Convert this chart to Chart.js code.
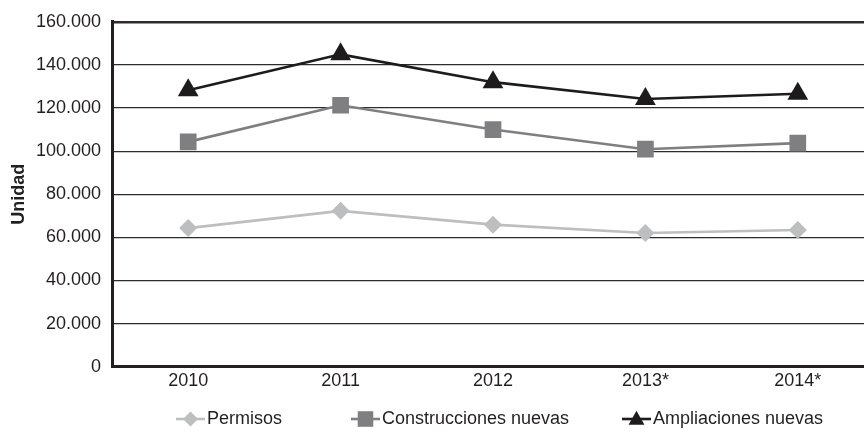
<!DOCTYPE html>
<html lang="es">
<head>
<meta charset="utf-8">
<title>Permisos y construcciones 2010-2014</title>
<script src="https://cdn.jsdelivr.net/npm/chart.js@4/dist/chart.umd.min.js"></script>
<style>
  html, body { margin: 0; padding: 0; background: #fff; width: 864px; height: 432px; overflow: hidden; }
  #wrap { position: relative; width: 886px; height: 432px; }
  canvas { display: block; }
</style>
</head>
<body>
<div id="wrap"><canvas id="chart" width="886" height="432"></canvas></div>
<script>
// Years on the horizontal axis (* = provisional figures)
const years = ['2010', '2011', '2012', '2013*', '2014*'];

// Units per year for each series
const permisos = [64300, 72300, 65900, 62000, 63400];
const construccionesNuevas = [104300, 121300, 110000, 100900, 103700];
const ampliacionesNuevas = [128200, 144900, 132000, 124200, 126600];

const seriesNames = ['Permisos', 'Construcciones nuevas', 'Ampliaciones nuevas'];
const yAxisTitle = 'Unidad';
const yMax = 160000;
const yStep = 20000;

const FONT = "'Liberation Sans', Arial, Helvetica, sans-serif";
const TEXT = '#231f20';
const COLORS = ['#bdbec0', '#7f7f82', '#1e1b1c'];
const STYLES = ['rectRot', 'rect', 'triangle'];
const RADII = [9, 11.8, 12];

// Thousands separator as a dot
function fmt(v) {
  return String(Math.round(v)).replace(/\B(?=(\d{3})+(?!\d))/g, '.');
}

function makeDataset(label, data, i) {
  return {
    label: label,
    data: data,
    borderColor: COLORS[i],
    backgroundColor: COLORS[i],
    pointBackgroundColor: COLORS[i],
    pointBorderColor: COLORS[i],
    pointBorderWidth: 0,
    pointStyle: STYLES[i],
    pointRadius: RADII[i],
    pointHoverRadius: RADII[i],
    borderWidth: 2.6,
    tension: 0,
    fill: false
  };
}

// Legend with a short line through each marker, drawn under the plot
function drawMarker(ctx, style, x, y, r, color) {
  ctx.save();
  ctx.fillStyle = color;
  ctx.beginPath();
  if (style === 'rectRot') {
    ctx.moveTo(x - r, y); ctx.lineTo(x, y - r); ctx.lineTo(x + r, y); ctx.lineTo(x, y + r);
  } else if (style === 'rect') {
    const s = r * Math.SQRT1_2;
    ctx.rect(x - s, y - s, 2 * s, 2 * s);
  } else {
    const h = r * 0.75;
    ctx.moveTo(x, y - h); ctx.lineTo(x + r * 0.72, y + h * 0.7); ctx.lineTo(x - r * 0.72, y + h * 0.7);
  }
  ctx.closePath();
  ctx.fill();
  ctx.restore();
}

const lineLegend = {
  id: 'lineLegend',
  afterDraw(chart) {
    const ctx = chart.ctx;
    const starts = [176, 351, 622];
    const y = 419;
    ctx.save();
    ctx.font = '18px ' + FONT;
    ctx.textBaseline = 'middle';
    ctx.fillStyle = TEXT;
    seriesNames.forEach((name, i) => {
      const s = starts[i];
      ctx.strokeStyle = COLORS[i];
      ctx.lineWidth = 2.6;
      ctx.beginPath();
      ctx.moveTo(s, y);
      ctx.lineTo(s + 29, y);
      ctx.stroke();
      drawMarker(ctx, STYLES[i], s + 14.5, y, [7.5, 11, 11][i], COLORS[i]);
      ctx.fillStyle = TEXT;
      ctx.fillText(name, s + 31, y);
    });
    ctx.restore();
  }
};

new Chart(document.getElementById('chart'), {
  type: 'line',
  data: {
    labels: years,
    datasets: [
      makeDataset(seriesNames[0], permisos, 0),
      makeDataset(seriesNames[1], construccionesNuevas, 1),
      makeDataset(seriesNames[2], ampliacionesNuevas, 2)
    ]
  },
  plugins: [lineLegend],
  options: {
    responsive: false,
    animation: false,
    devicePixelRatio: 1,
    layout: { padding: { top: 20, right: 0, bottom: 40.3, left: 0 } },
    plugins: {
      legend: { display: false },
      tooltip: { enabled: false }
    },
    scales: {
      x: {
        offset: true,
        grid: { display: false, drawTicks: false },
        border: { display: true, color: TEXT, width: 3 },
        ticks: { color: TEXT, font: { family: FONT, size: 18 }, padding: 4, maxRotation: 0, autoSkip: false },
        afterFit(scale) { scale.height = 25; }
      },
      y: {
        min: 0,
        max: yMax,
        grid: {
          drawTicks: false,
          color: '#2e2b2c',
          lineWidth: (c) => (c.tick && c.tick.value === yMax ? 2.4 : 1.2)
        },
        border: { display: true, color: TEXT, width: 3 },
        ticks: {
          stepSize: yStep,
          color: TEXT,
          padding: 11,
          font: { family: FONT, size: 18 },
          callback: (v) => fmt(v)
        },
        title: {
          display: true,
          text: yAxisTitle,
          color: TEXT,
          font: { family: FONT, size: 18, weight: 'bold' },
          padding: { top: 8, bottom: 0 }
        },
        afterFit(scale) { scale.width = 112; }
      }
    }
  }
});
</script>
</body>
</html>
